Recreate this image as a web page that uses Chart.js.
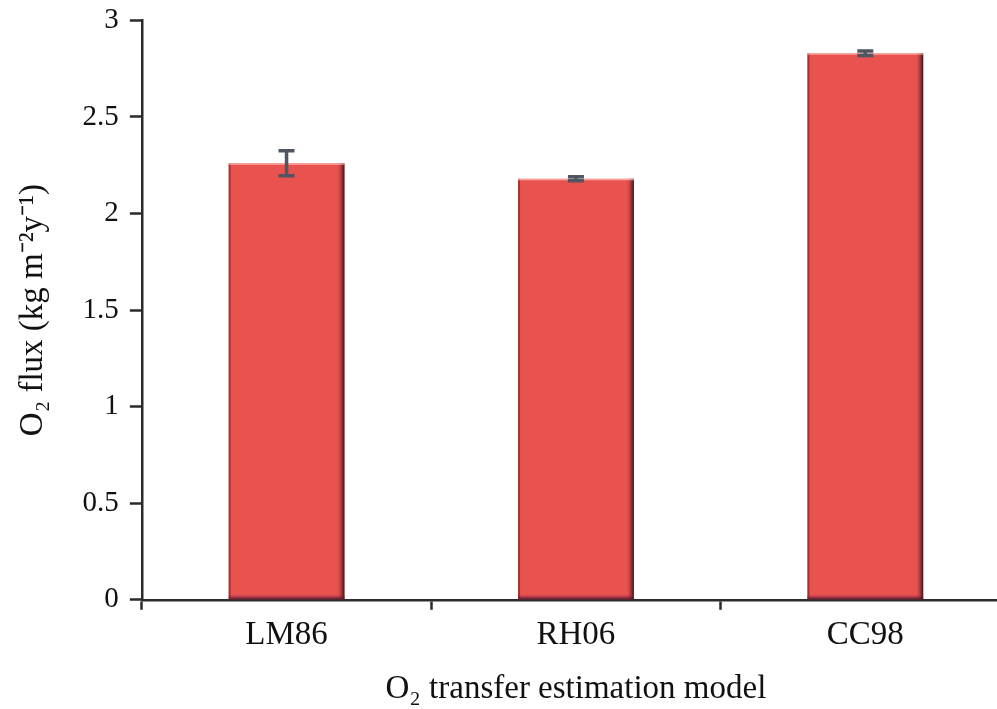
<!DOCTYPE html>
<html>
<head>
<meta charset="utf-8">
<script src="https://cdn.jsdelivr.net/npm/chart.js@4"></script>
<style>
  html, body { margin: 0; padding: 0; background: #fff; overflow: hidden; }
  #wrap { position: relative; width: 1012px; height: 717px; margin-top: -8px; }
</style>
</head>
<body>
<div id="wrap"><canvas id="fluxChart"></canvas></div>
<script>
const models = ['LM86', 'RH06', 'CC98'];
const fluxValues = [2.26, 2.18, 2.83];
const fluxErrors = [0.065, 0.01, 0.012];
const yTicks = [0, 0.5, 1, 1.5, 2, 2.5, 3];

(function () {
    const axisColor = '#2b2b2b';
    const serif = '"Liberation Serif", "Times New Roman", serif';

    // darker edges on the bars, like the old 3D office look
    const bevelPlugin = {
        id: 'bevel',
        afterDatasetsDraw(chart) {
            const ctx = chart.ctx;
            chart.getDatasetMeta(0).data.forEach(bar => {
                const left = bar.x - bar.width / 2;
                const right = bar.x + bar.width / 2;
                const top = bar.y;
                const bottom = bar.base;
                ctx.save();
                const g = ctx.createLinearGradient(right - 8, 0, right, 0);
                g.addColorStop(0, 'rgba(232, 83, 80, 0)');
                g.addColorStop(1, 'rgba(40, 12, 20, 0.95)');
                ctx.fillStyle = g;
                ctx.fillRect(right - 8, top, 8, bottom - top);
                const gb = ctx.createLinearGradient(0, bottom - 5, 0, bottom);
                gb.addColorStop(0, 'rgba(150, 40, 90, 0)');
                gb.addColorStop(1, 'rgba(70, 15, 40, 0.9)');
                ctx.fillStyle = gb;
                ctx.fillRect(left, bottom - 5, right - left, 5);
                ctx.fillStyle = 'rgba(120, 30, 30, 0.6)';
                ctx.fillRect(left, top, 2, bottom - top);
                ctx.fillStyle = 'rgba(255, 200, 190, 0.7)';
                ctx.fillRect(left, top, right - left, 1.5);
                ctx.restore();
            });
        }
    };

    const errorBarPlugin = {
        id: 'errorBars',
        afterDatasetsDraw(chart) {
            const ctx = chart.ctx;
            const y = chart.scales.y;
            ctx.save();
            ctx.strokeStyle = '#4f5561';
            ctx.lineWidth = 3.5;
            chart.getDatasetMeta(0).data.forEach((bar, i) => {
                const hi = y.getPixelForValue(fluxValues[i] + fluxErrors[i]);
                const lo = y.getPixelForValue(fluxValues[i] - fluxErrors[i]);
                const cap = 8;
                ctx.beginPath();
                ctx.moveTo(bar.x, hi);
                ctx.lineTo(bar.x, lo);
                ctx.moveTo(bar.x - cap, hi);
                ctx.lineTo(bar.x + cap, hi);
                ctx.moveTo(bar.x - cap, lo);
                ctx.lineTo(bar.x + cap, lo);
                ctx.stroke();
            });
            ctx.restore();
        }
    };

    new Chart(document.getElementById('fluxChart'), {
        type: 'bar',
        data: {
            labels: models,
            datasets: [{
                data: fluxValues,
                backgroundColor: '#e8524f',
                borderWidth: 0,
                barPercentage: 0.4,
                categoryPercentage: 1
            }]
        },
        options: {
            responsive: true,
            maintainAspectRatio: false,
            animation: false,
            layout: { padding: { top: 0, left: 14, right: 2, bottom: 0 } },
            plugins: {
                legend: { display: false },
                tooltip: { enabled: false }
            },
            scales: {
                x: {
                    offset: true,
                    grid: {
                        offset: true,
                        drawOnChartArea: false,
                        tickLength: 10,
                        tickWidth: 2.5,
                        color: axisColor
                    },
                    border: { color: axisColor, width: 2.5 },
                    ticks: {
                        color: '#111',
                        padding: 6,
                        font: { family: serif, size: 33 }
                    },
                    title: {
                        display: true,
                        text: 'O\u2082 transfer estimation model',
                        color: '#111',
                        font: { family: serif, size: 33 },
                        padding: { top: 8, bottom: 0 }
                    }
                },
                y: {
                    min: 0,
                    max: 3,
                    afterBuildTicks(scale) {
                        scale.ticks = yTicks.map(v => ({ value: v }));
                    },
                    grid: {
                        drawOnChartArea: false,
                        tickLength: 12,
                        tickWidth: 2.5,
                        color: axisColor
                    },
                    border: { color: axisColor, width: 2.5 },
                    ticks: {
                        color: '#111',
                        padding: 11,
                        font: { family: serif, size: 29 },
                        callback: v => String(v)
                    },
                    title: {
                        display: true,
                        text: 'O\u2082 flux (kg m\u207B\u00B2y\u207B\u00B9)',
                        color: '#111',
                        font: { family: serif, size: 33 },
                        padding: { top: 0, bottom: 18 }
                    }
                }
            }
        },
        plugins: [bevelPlugin, errorBarPlugin]
    });
})();
</script>
</body>
</html>
